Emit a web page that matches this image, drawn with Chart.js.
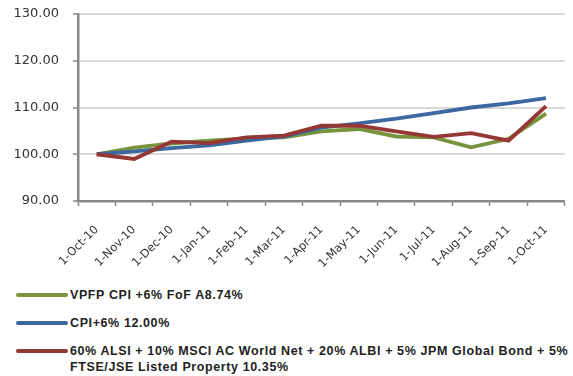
<!DOCTYPE html>
<html>
<head>
<meta charset="utf-8">
<script src="https://cdn.jsdelivr.net/npm/chart.js@4.4.0/dist/chart.umd.min.js"></script>
<style>
  body { margin: 0; background: #fff; }
  #wrap { position: relative; width: 573px; height: 376px; }
  #chart { position: absolute; left: 0; top: 0; }
  #legend { position: absolute; left: 16px; top: 287px; width: 557px;
    font-family: "Liberation Sans", Arial, sans-serif; font-weight: bold; font-size: 12.5px; color: #222; letter-spacing: 0.6px; }
  .item { display: flex; align-items: flex-start; margin-bottom: 12px; line-height: 16px; white-space: nowrap; }
  .swatch { flex: 0 0 52px; height: 4px; border-radius: 2px; margin-top: 6px; margin-right: 2px; }
</style>
</head>
<body>
<div id="wrap">
  <canvas id="chart" width="573" height="275"></canvas>
  <div id="legend"></div>
</div>
<script>
// 資料
const labels = ["1-Oct-10", "1-Nov-10", "1-Dec-10", "1-Jan-11", "1-Feb-11", "1-Mar-11", "1-Apr-11",
  "1-May-11", "1-Jun-11", "1-Jul-11", "1-Aug-11", "1-Sep-11", "1-Oct-11"];
const vpfp = [100, 101.4, 102.3, 102.9, 103.4, 103.6, 104.9, 105.4, 103.8, 103.6, 101.5, 103.3, 108.7];
const cpi6 = [100, 100.6, 101.3, 101.9, 102.9, 103.8, 105.7, 106.6, 107.6, 108.8, 110.0, 110.9, 112.0];
const bench = [100, 99.0, 102.7, 102.4, 103.6, 104.0, 106.1, 106.1, 104.9, 103.7, 104.5, 102.9, 110.3];
const yTicks = [90, 100, 110, 120, 130];

// 圖例文字 (第三項分兩行)
const seriesNames = [
  ["VPFP CPI +6% FoF A8.74%"],
  ["CPI+6% 12.00%"],
  ["60% ALSI + 10% MSCI AC World Net + 20% ALBI + 5% JPM Global Bond + 5%", "FTSE/JSE Listed Property 10.35%"]
];
const seriesColors = ["#77933C", "#3C68A0", "#953735"];
const seriesData = [vpfp, cpi6, bench];

const axisGray = "#878787";
const gridGray = "#d9d9d9";

const datasets = seriesData.map((d, i) => ({
  label: seriesNames[i].join(" "),
  data: d,
  borderColor: seriesColors[i],
  backgroundColor: seriesColors[i],
  borderWidth: 3.8,
  pointRadius: 0,
  tension: 0,
  fill: false
}));
// 紅線畫在最上層
datasets.reverse();

new Chart(document.getElementById("chart").getContext("2d"), {
  type: "line",
  data: { labels: labels, datasets: datasets },
  options: {
    responsive: false,
    animation: false,
    layout: { padding: { top: 14, right: 6, left: 0, bottom: 0 } },
    plugins: { legend: { display: false }, tooltip: { enabled: false } },
    scales: {
      x: {
        offset: true,
        grid: { offset: true, drawOnChartArea: false, drawTicks: true, tickLength: 5, tickColor: axisGray, tickWidth: 1.5 },
        border: { color: axisGray, width: 2.5 },
        ticks: { color: "#333", font: { family: "DejaVu Sans", size: 11.5 }, minRotation: 45, maxRotation: 45, padding: 17, autoSkip: false },
        afterFit: s => { s.height = 74; }
      },
      y: {
        min: 90, max: 130,
        afterBuildTicks: s => { s.ticks = yTicks.map(v => ({ value: v })); },
        grid: { color: gridGray, lineWidth: 2, tickLength: 5, tickColor: axisGray, tickWidth: 1.5 },
        border: { color: axisGray, width: 2.5 },
        ticks: { color: "#333", font: { family: "DejaVu Sans", size: 13 }, padding: 14, callback: v => v.toFixed(2) },
        afterFit: s => { s.width = 78; s.paddingTop = 0; s.paddingBottom = 0; }
      }
    }
  }
});

// 圖例
const legendEl = document.getElementById("legend");
seriesNames.forEach((lines, i) => {
  const item = document.createElement("div");
  item.className = "item";
  item.innerHTML = `<span class="swatch" style="background:${seriesColors[i]}"></span><span>${lines.join("<br>")}</span>`;
  legendEl.appendChild(item);
});
</script>
</body>
</html>
